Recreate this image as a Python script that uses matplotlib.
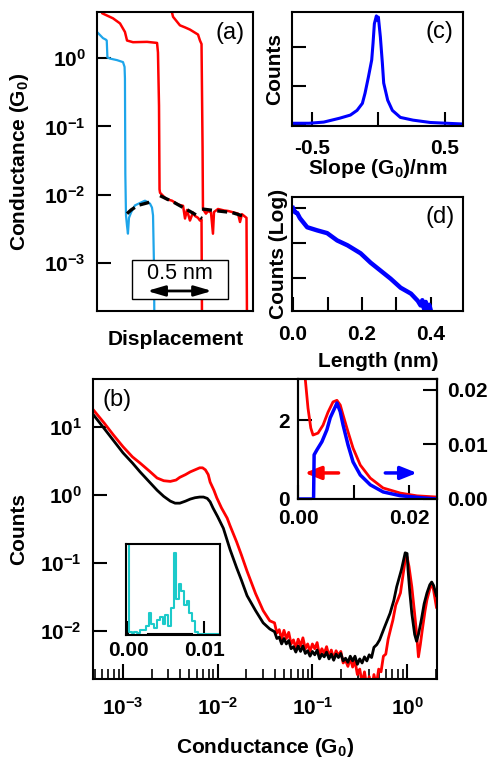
import numpy as np
import matplotlib.pyplot as plt
from matplotlib.patches import Rectangle
from matplotlib.ticker import NullLocator, NullFormatter

plt.rcParams['font.family'] = ['Liberation Sans', 'DejaVu Sans']
plt.rcParams['font.weight'] = 'bold'
plt.rcParams['axes.labelweight'] = 'bold'
plt.rcParams['axes.linewidth'] = 1.5

# ---------------- data ----------------
# (a) single traces: displacement (nm) vs conductance (G0)
a_blue_x = [0.000, 0.046, 0.069, 0.075, 0.080, 0.100, 0.154, 0.200, 0.212, 0.215, 0.218,
            0.223, 0.231, 0.238, 0.246, 0.262, 0.292, 0.331, 0.369, 0.392, 0.408, 0.423,
            0.431, 0.438, 0.442]
a_blue_g = [2.4, 1.95, 1.85, 1.8, 1.02, 0.98, 0.93, 0.87, 0.74, 0.5, 0.02,
            5.0e-3, 3.5e-3, 2.7e-3, 4.6e-3, 5.5e-3, 7.0e-3, 7.6e-3, 8.2e-3, 7.8e-3, 7.4e-3, 6.5e-3,
            5.0e-3, 1.0e-3, 1e-4]
a_red1_x = [0.035, 0.040, 0.123, 0.177, 0.215, 0.231, 0.277, 0.385, 0.462, 0.469, 0.477,
            0.481, 0.485, 0.531, 0.577, 0.623, 0.662, 0.677, 0.692, 0.715, 0.738, 0.754,
            0.777, 0.792, 0.804, 0.808]
a_red1_g = [6.0, 4.5, 3.8, 3.2, 2.4, 1.8, 1.7, 1.72, 1.66, 1.2, 0.2,
            1.2e-2, 1.07e-2, 8.7e-3, 8.2e-3, 7.2e-3, 6.9e-3, 4.5e-3, 6.0e-3, 4.2e-3, 5.5e-3, 4.9e-3,
            4.6e-3, 4.2e-3, 4.4e-3, 1e-4]
a_red2_x = [0.562, 0.585, 0.638, 0.677, 0.715, 0.777, 0.792, 0.804, 0.812, 0.815, 0.838,
            0.854, 0.877, 0.892, 0.900, 0.931, 0.977, 1.008, 1.054, 1.085, 1.100, 1.115,
            1.138, 1.150, 1.154]
a_red2_g = [6.0, 4.0, 3.0, 2.8, 2.6, 2.2, 1.8, 1.6, 0.05, 6.2e-3, 5.3e-3,
            5.8e-3, 5.5e-3, 2.7e-3, 5.6e-3, 6.2e-3, 5.9e-3, 5.8e-3, 5.5e-3, 5.3e-3, 4.0e-3, 5.2e-3,
            4.8e-3, 4.6e-3, 1e-4]
a_fit1_x = [0.231, 0.262, 0.315, 0.385, 0.423]
a_fit1_g = [5.3e-3, 6.0e-3, 7.0e-3, 7.6e-3, 8.0e-3]
a_fit2_x = [0.485, 0.600, 0.731, 0.808]
a_fit2_g = [9.7e-3, 7.6e-3, 5.5e-3, 4.5e-3]
a_fit3_x = [0.808, 0.931, 1.038, 1.138]
a_fit3_g = [6.2e-3, 5.8e-3, 5.5e-3, 4.8e-3]

# (b) conductance histograms, log10(G/G0) and log10(counts)
b_black_logg = [-3.33, -3.20, -3.10, -3.00, -2.90, -2.82, -2.72, -2.64, -2.57, -2.50, -2.45,
                -2.40, -2.34, -2.29, -2.24, -2.19, -2.15, -2.11, -2.08, -2.05, -2.00, -1.94,
                -1.87, -1.80, -1.75, -1.69, -1.60, -1.52, -1.45,
                -1.400, -1.375, -1.350, -1.325, -1.300, -1.275, -1.250, -1.225, -1.200, -1.175,
                -1.150, -1.125, -1.100, -1.075, -1.050, -1.025, -1.000, -0.975, -0.950, -0.925,
                -0.900, -0.875, -0.850, -0.825, -0.800, -0.775, -0.750, -0.725, -0.700, -0.675,
                -0.650, -0.625, -0.600, -0.575, -0.550, -0.525, -0.500, -0.475, -0.450, -0.425,
                -0.400, -0.375, -0.350,
                -0.32, -0.29, -0.24, -0.18, -0.14, -0.11, -0.06, -0.02, 0.00, 0.01, 0.03,
                0.05, 0.08, 0.10, 0.12, 0.15, 0.18, 0.21, 0.24, 0.26, 0.28, 0.31]
b_black_logc = [1.21, 0.98, 0.80, 0.62, 0.47, 0.34, 0.19, 0.07, -0.02, -0.09, -0.12,
                -0.12, -0.09, -0.06, -0.04, -0.03, -0.03, -0.05, -0.10, -0.19, -0.32, -0.49,
                -0.80, -1.07, -1.25, -1.48, -1.70, -1.88, -1.97,
                -2.01, -2.11, -2.09, -2.19, -2.11, -2.19, -2.14, -2.26, -2.23, -2.31,
                -2.22, -2.30, -2.22, -2.33, -2.29, -2.37, -2.30, -2.35, -2.28, -2.41,
                -2.34, -2.38, -2.31, -2.41, -2.34, -2.43, -2.34, -2.39, -2.33, -2.44,
                -2.40, -2.46, -2.37, -2.44, -2.37, -2.49, -2.41, -2.47, -2.38, -2.44,
                -2.35, -2.39, -2.24,
                -2.20, -2.13, -1.95, -1.74, -1.55, -1.35, -1.10, -0.85, -0.86, -1.10, -1.45,
                -1.74, -2.05, -2.15, -2.05, -1.84, -1.60, -1.44, -1.32, -1.28, -1.33, -1.48]
b_red_logg = [-3.33, -3.20, -3.10, -3.00, -2.90, -2.82, -2.72, -2.64, -2.57, -2.50, -2.44,
              -2.40, -2.34, -2.29, -2.24, -2.19, -2.16, -2.13, -2.10, -2.08, -2.04, -2.01,
              -1.96, -1.90, -1.87, -1.80, -1.75, -1.69, -1.60, -1.52, -1.45,
              -1.400, -1.375, -1.350, -1.325, -1.300, -1.275, -1.250, -1.225, -1.200, -1.175,
              -1.150, -1.125, -1.100, -1.075, -1.050, -1.025, -1.000, -0.975, -0.950, -0.925,
              -0.900, -0.875, -0.850, -0.825, -0.800, -0.775, -0.750, -0.725, -0.700, -0.675,
              -0.650, -0.625, -0.600, -0.575, -0.550, -0.525, -0.500, -0.475, -0.450, -0.425,
              -0.400, -0.375, -0.350, -0.325, -0.300, -0.275, -0.250, -0.225, -0.200,
              -0.17, -0.15, -0.12, -0.10, -0.07, -0.04, -0.02, 0.00, 0.02, 0.05, 0.08,
              0.10, 0.12, 0.14, 0.16, 0.19, 0.21, 0.24, 0.26, 0.28, 0.31]
b_red_logc = [1.28, 1.06, 0.88, 0.71, 0.56, 0.47, 0.35, 0.25, 0.21, 0.20, 0.22,
              0.26, 0.30, 0.34, 0.37, 0.40, 0.40, 0.37, 0.30, 0.19, 0.07, -0.04,
              -0.19, -0.34, -0.45, -0.69, -0.88, -1.12, -1.45, -1.70, -1.85,
              -1.88, -2.03, -1.98, -2.12, -1.99, -2.11, -2.02, -2.19, -2.13, -2.25,
              -2.12, -2.22, -2.10, -2.26, -2.19, -2.30, -2.19, -2.26, -2.17, -2.36,
              -2.26, -2.33, -2.23, -2.37, -2.28, -2.41, -2.29, -2.36, -2.30, -2.47,
              -2.43, -2.52, -2.40, -2.53, -2.44, -2.64, -2.56, -2.77, -2.60, -2.82,
              -2.67, -2.88, -2.64, -2.80, -2.56, -2.60, -2.37, -2.34, -2.12,
              -1.95, -1.84, -1.62, -1.55, -1.44, -1.15, -0.96, -0.91, -1.05, -1.35, -1.75,
              -2.03, -2.38, -2.20, -1.99, -1.70, -1.54, -1.38, -1.29, -1.40, -1.65]

# (b) upper inset: linear histograms (red: left axis, blue: right axis)
bi_red_g = [0.0010, 0.0018, 0.0023, 0.0027, 0.0036, 0.0045, 0.0054, 0.0063, 0.0070, 0.0076,
            0.0081, 0.0090, 0.0099, 0.0112, 0.0130, 0.0153, 0.0184, 0.0214, 0.0250]
bi_red_c = [3.5, 2.3, 1.8, 1.62, 1.67, 1.87, 2.2, 2.46, 2.50, 2.38,
            2.13, 1.70, 1.29, 0.86, 0.53, 0.28, 0.15, 0.08, 0.05]
bi_blue_g = [0.0000, 0.0028, 0.0029, 0.0034, 0.0043, 0.0052, 0.0058, 0.0067, 0.0070, 0.0076,
             0.0081, 0.0090, 0.0099, 0.0112, 0.0130, 0.0153, 0.0184, 0.0225, 0.0250]
bi_blue_c = [0.0, 0.0, 0.0081, 0.0090, 0.0105, 0.0127, 0.0149, 0.0169, 0.0176, 0.0160,
             0.0136, 0.0099, 0.0068, 0.0044, 0.0026, 0.0013, 0.0006, 0.0002, 0.0]

# (b) lower inset
bl_g = [0.0000, 0.0003, 0.0006, 0.0010, 0.0014, 0.0018, 0.0022, 0.0026, 0.0029, 0.0032,
        0.0036, 0.0040, 0.0044, 0.0047, 0.0051, 0.0055, 0.0058, 0.0062, 0.0065, 0.0068,
        0.0072, 0.0075, 0.0079, 0.0082, 0.0086, 0.0090, 0.0094, 0.0100, 0.0110, 0.0121]
bl_c = [1.1, 0.03, 0.02, 0.03, 0.02, 0.05, 0.06, 0.10, 0.24, 0.12,
        0.08, 0.16, 0.20, 0.12, 0.22, 0.10, 0.30, 0.90, 0.40, 0.56,
        0.48, 0.33, 0.37, 0.24, 0.15, 0.03, 0.01, 0.01, 0.01, 0.01]
bl_black_g = [0.0026, 0.0084]
bl_black_c = [0.012, 0.012]

# (c) slope histogram
c_slope = [-0.64, -0.52, -0.41, -0.29, -0.21, -0.16, -0.12, -0.10, -0.075, -0.05, -0.04,
           -0.03, -0.015, -0.008, 0.0, 0.015, 0.03, 0.04, 0.07, 0.105, 0.165, 0.26, 0.39, 0.64]
c_counts = [0.05, 0.05, 0.08, 0.18, 0.26, 0.38, 0.56, 0.82, 1.23, 1.67, 2.1,
            2.6, 2.8, 2.69, 2.77, 2.26, 1.59, 1.08, 0.64, 0.38, 0.2, 0.13, 0.07, 0.03]

# (d) length histogram, log10(counts)
d_len = [0.0, 0.006, 0.012, 0.020, 0.041, 0.070, 0.099, 0.128, 0.158, 0.196, 0.225,
         0.254, 0.283, 0.312, 0.342, 0.362, 0.370, 0.375, 0.380, 0.385, 0.390, 0.395, 0.400]
d_logc = [3.0, 2.88, 2.86, 2.71, 2.45, 2.36, 2.28, 2.07, 1.93, 1.70, 1.43,
          1.20, 0.97, 0.71, 0.54, 0.33, 0.20, 0.35, 0.10, 0.30, 0.05, 0.22, 0.04]

# ---------------- layout ----------------
W, H = 492, 758


def box(l, t, r, b):
    return [l / W, 1 - b / H, (r - l) / W, (b - t) / H]


fig = plt.figure(figsize=(W / 100, H / 100), dpi=100)

TICK = 15
LAB = 15


def style(ax, pad=9):
    ax.tick_params(which='major', direction='in', length=10, width=1.5,
                   labelsize=TICK, pad=pad)
    ax.tick_params(which='minor', direction='in', length=7, width=1.2)


# (a)
ax_a = fig.add_axes(box(97, 12, 253, 311))
ax_a.plot(a_red1_x, a_red1_g, color='red', lw=1.8)
ax_a.plot(a_red2_x, a_red2_g, color='red', lw=1.8)
ax_a.plot(a_blue_x, a_blue_g, color='#1ea5ea', lw=1.6)
for fx, fg in [(a_fit1_x, a_fit1_g), (a_fit2_x, a_fit2_g), (a_fit3_x, a_fit3_g)]:
    ax_a.plot(fx, fg, color='black', lw=2.4, ls=(0, (3, 1.6)))
ax_a.set_yscale('log')
ax_a.set_xlim(0, 1.2)
ax_a.set_ylim(2e-4, 4.7)
ax_a.set_xticks([])
ax_a.yaxis.set_minor_locator(NullLocator())
style(ax_a, pad=8)
ax_a.set_ylabel(r'Conductance (G$_\mathregular{0}$)', fontsize=LAB)
ax_a.yaxis.set_label_coords(-0.42, 0.5)
ax_a.set_xlabel('Displacement', fontsize=LAB)
ax_a.xaxis.set_label_coords(0.506, -0.065)
ax_a.text(0.853, 0.93, '(a)', transform=ax_a.transAxes, fontsize=17,
          fontweight='normal', ha='center', va='center')
ax_a.add_patch(Rectangle((0.224, 0.040), 0.616, 0.131, transform=ax_a.transAxes,
                         facecolor='white', edgecolor='black', lw=1.0, zorder=5))
ax_a.text(0.532, 0.127, '0.5 nm', transform=ax_a.transAxes, fontsize=15.5,
          fontweight='normal', ha='center', va='center', zorder=6)
ax_a.annotate('', xy=(0.385, 0.067), xytext=(0.885, 0.067),
              xycoords=('data', 'axes fraction'), textcoords=('data', 'axes fraction'),
              arrowprops=dict(arrowstyle='<|-|>,head_length=0.75,head_width=0.22',
                              color='black', lw=2, shrinkA=0, shrinkB=0, mutation_scale=14),
              zorder=6)

# (c)
ax_c = fig.add_axes(box(292, 12, 463, 126))
ax_c.plot(c_slope, c_counts, color='blue', lw=2.2)
ax_c.set_xlim(-0.648, 0.635)
ax_c.set_ylim(-0.02, 2.9)
ax_c.set_xticks([-0.5, 0, 0.5])
ax_c.set_xticklabels(['-0.5', '', '0.5'])
ax_c.set_yticks([0, 1, 2])
ax_c.set_yticklabels([])
style(ax_c)
ax_c.set_ylabel('Counts', fontsize=LAB)
ax_c.yaxis.set_label_coords(-0.047, 0.5)
ax_c.set_xlabel(r'Slope (G$_\mathregular{0}$)/nm', fontsize=LAB)
ax_c.xaxis.set_label_coords(0.503, -0.27)
ax_c.text(0.865, 0.825, '(c)', transform=ax_c.transAxes, fontsize=17,
          fontweight='normal', ha='center', va='center')

# (d)
ax_d = fig.add_axes(box(292, 197, 463, 311))
ax_d.plot(d_len, 10 ** np.array(d_logc), color='blue', lw=3.2)
ax_d.set_yscale('log')
ax_d.set_xlim(-0.003, 0.493)
ax_d.set_ylim(10 ** 0.04, 10 ** 3.32)
ax_d.set_xticks([0, 0.1, 0.2, 0.3, 0.4])
ax_d.set_xticklabels(['0.0', '', '0.2', '', '0.4'])
ax_d.set_yticks([10, 100, 1000])
ax_d.yaxis.set_minor_locator(NullLocator())
ax_d.yaxis.set_major_formatter(NullFormatter())
style(ax_d, pad=10)
ax_d.set_ylabel('Counts (Log)', fontsize=LAB)
ax_d.yaxis.set_label_coords(-0.023, 0.5)
ax_d.set_xlabel('Length (nm)', fontsize=LAB)
ax_d.xaxis.set_label_coords(0.503, -0.36)
ax_d.text(0.865, 0.825, '(d)', transform=ax_d.transAxes, fontsize=17,
          fontweight='normal', ha='center', va='center')

# (b) main
ax_b = fig.add_axes(box(93, 379, 437, 679))
ax_b.plot(10 ** np.array(b_red_logg), 10 ** np.array(b_red_logc), color='red', lw=2.0)
ax_b.plot(10 ** np.array(b_black_logg), 10 ** np.array(b_black_logc), color='black', lw=2.0)
ax_b.set_xscale('log')
ax_b.set_yscale('log')
ax_b.set_xlim(4.82e-4, 2.07)
ax_b.set_ylim(1.97e-3, 50.8)
ax_b.yaxis.set_minor_locator(NullLocator())
ax_b.xaxis.set_minor_formatter(NullFormatter())
style(ax_b, pad=9)
ax_b.tick_params(axis='x', which='major', length=11, pad=13)
ax_b.tick_params(axis='y', pad=8)
ax_b.set_ylabel('Counts', fontsize=LAB)
ax_b.yaxis.set_label_coords(-0.19, 0.5)
ax_b.set_xlabel(r'Conductance (G$_\mathregular{0}$)', fontsize=LAB)
ax_b.xaxis.set_label_coords(0.5, -0.19)
ax_b.text(0.07, 0.93, '(b)', transform=ax_b.transAxes, fontsize=17,
          fontweight='normal', ha='center', va='center')

# (b) upper inset with twin axis
ax_r = fig.add_axes(box(298, 379, 437, 499))
ax_r.plot(bi_red_g, bi_red_c, color='red', lw=2)
ax_r.set_xlim(0, 0.025)
ax_r.set_ylim(0, 3.04)
ax_r.set_xticks([0, 0.01, 0.02])
ax_r.set_xticklabels(['0.00', '', '0.02'])
ax_r.set_yticks([0, 2])
ax_r.set_yticklabels(['0', '2'])
style(ax_r, pad=6)
ax_r.tick_params(axis='x', pad=7)
ax_r.annotate('', xy=(0.0012, 0.66), xytext=(0.0073, 0.66),
              arrowprops=dict(arrowstyle='-|>,head_length=0.7,head_width=0.28',
                              color='red', lw=2.5, shrinkA=0, shrinkB=0, mutation_scale=14))
ax_r.annotate('', xy=(0.0214, 0.66), xytext=(0.0157, 0.66),
              arrowprops=dict(arrowstyle='-|>,head_length=0.7,head_width=0.28',
                              color='blue', lw=2.5, shrinkA=0, shrinkB=0, mutation_scale=14))
ax_r2 = ax_r.twinx()
ax_r2.plot(bi_blue_g, bi_blue_c, color='blue', lw=2.5)
ax_r2.set_ylim(0, 0.022)
ax_r2.set_yticks([0, 0.01, 0.02])
ax_r2.set_yticklabels(['0.00', '0.01', '0.02'])
style(ax_r2, pad=7)

# (b) lower inset
ax_l = fig.add_axes(box(126, 544, 220, 635))
ax_l.plot(bl_black_g, bl_black_c, color='black', lw=1.5)
ax_l.plot(bl_g, bl_c, color='#1ccaca', lw=1.5, drawstyle='steps-mid')
ax_l.set_xlim(-0.0003, 0.0121)
ax_l.set_ylim(0, 1)
ax_l.set_xticks([0, 0.01])
ax_l.set_xticklabels(['0.00', '0.01'])
ax_l.set_yticks([])
style(ax_l, pad=4)

fig.savefig('out.png', dpi=100)
